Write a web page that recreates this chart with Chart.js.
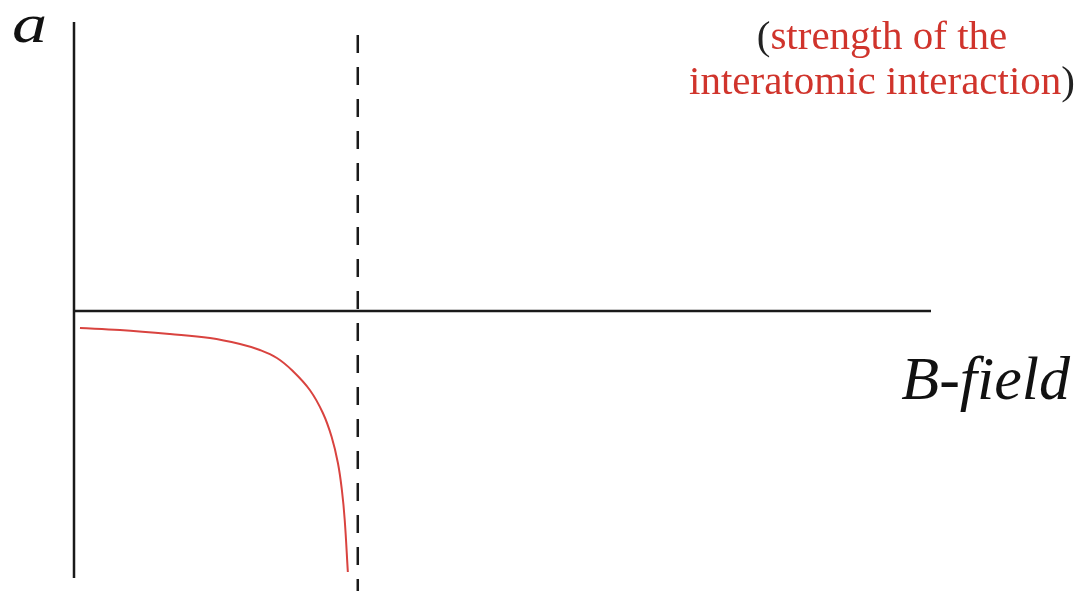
<!DOCTYPE html>
<html>
<head>
<meta charset="utf-8">
<script src="https://cdn.jsdelivr.net/npm/chart.js@4.4.1/dist/chart.umd.min.js"></script>
<style>
  html, body { margin: 0; padding: 0; background: #fff; }
  #wrap { width: 1081px; height: 591px; position: relative; }
</style>
</head>
<body>
<div id="wrap"><canvas id="chart"></canvas></div>
<script>
// scattering length a vs B-field, below the resonance
const fieldValues = [0.021, 0.162, 0.338, 0.479, 0.585, 0.655, 0.715, 0.771, 0.831, 0.877, 0.908, 0.930, 0.944, 0.954, 0.965];
const aValues     = [-0.17, -0.19, -0.23, -0.27, -0.33, -0.39, -0.47, -0.60, -0.79, -1.02, -1.26, -1.52, -1.79, -2.09, -2.61];

const resonanceField = 1;          // dashed line position
const xRange = [0, 3.02];
const yRange = [-2.67, 2.89];
const dashSpan = [2.76, -2.80];

const axisLabelY = 'a';
const axisLabelX = 'B-field';
const noteLines = ['strength of the', 'interatomic interaction'];

const curve = fieldValues.map((x, i) => ({ x: x, y: aValues[i] }));

// texts: axis names and the red note with black brackets
const labelsPlugin = {
  id: 'labels',
  afterDraw(chart) {
    const ctx = chart.ctx;
    ctx.save();
    ctx.textBaseline = 'alphabetic';
    ctx.fillStyle = '#111';
    ctx.font = 'italic 54px "Liberation Serif"';
    ctx.textAlign = 'left';
    ctx.save();
    ctx.translate(12, 42);
    ctx.scale(1.3, 1);
    ctx.fillText(axisLabelY, 0, 0);
    ctx.restore();

    ctx.font = 'italic 62px "Liberation Serif"';
    ctx.textAlign = 'right';
    ctx.fillText(axisLabelX, 1070, 399);

    ctx.font = '41px "Liberation Serif"';
    ctx.textAlign = 'left';
    const cx = 882;
    const drawLine = (txt, y, open, close) => {
      const wOpen = open ? ctx.measureText('(').width : 0;
      const wClose = close ? ctx.measureText(')').width : 0;
      const w = ctx.measureText(txt).width + wOpen + wClose;
      let x = cx - w / 2;
      if (open) { ctx.fillStyle = '#222'; ctx.fillText('(', x, y); x += wOpen; }
      ctx.fillStyle = '#d0342c';
      ctx.fillText(txt, x, y);
      x += ctx.measureText(txt).width;
      if (close) { ctx.fillStyle = '#222'; ctx.fillText(')', x, y); }
    };
    drawLine(noteLines[0], 49, true, false);
    drawLine(noteLines[1], 94, false, true);
    ctx.restore();
  }
};

new Chart(document.getElementById('chart'), {
  type: 'scatter',
  data: {
    datasets: [
      {
        // vertical axis
        data: [{ x: 0, y: yRange[0] }, { x: 0, y: yRange[1] }],
        showLine: true, borderColor: '#1a1a1a', borderWidth: 2.5, pointRadius: 0, clip: false
      },
      {
        // horizontal axis
        data: [{ x: xRange[0], y: 0 }, { x: xRange[1], y: 0 }],
        showLine: true, borderColor: '#1a1a1a', borderWidth: 2.5, pointRadius: 0, clip: false
      },
      {
        data: [{ x: resonanceField, y: dashSpan[0] }, { x: resonanceField, y: dashSpan[1] }],
        showLine: true, borderColor: '#1a1a1a', borderWidth: 2.5, borderDash: [18, 14], pointRadius: 0, clip: false
      },
      {
        data: curve,
        showLine: true, borderColor: '#d9433f', borderWidth: 2, pointRadius: 0,
        tension: 0.4, clip: false
      }
    ]
  },
  options: {
    responsive: true,
    maintainAspectRatio: false,
    animation: false,
    layout: { padding: { left: 74, right: 150, top: 22, bottom: 13 } },
    scales: {
      x: { type: 'linear', min: xRange[0], max: xRange[1], display: false },
      y: { type: 'linear', min: yRange[0], max: yRange[1], display: false }
    },
    plugins: { legend: { display: false }, tooltip: { enabled: false } }
  },
  plugins: [labelsPlugin]
});
</script>
</body>
</html>
